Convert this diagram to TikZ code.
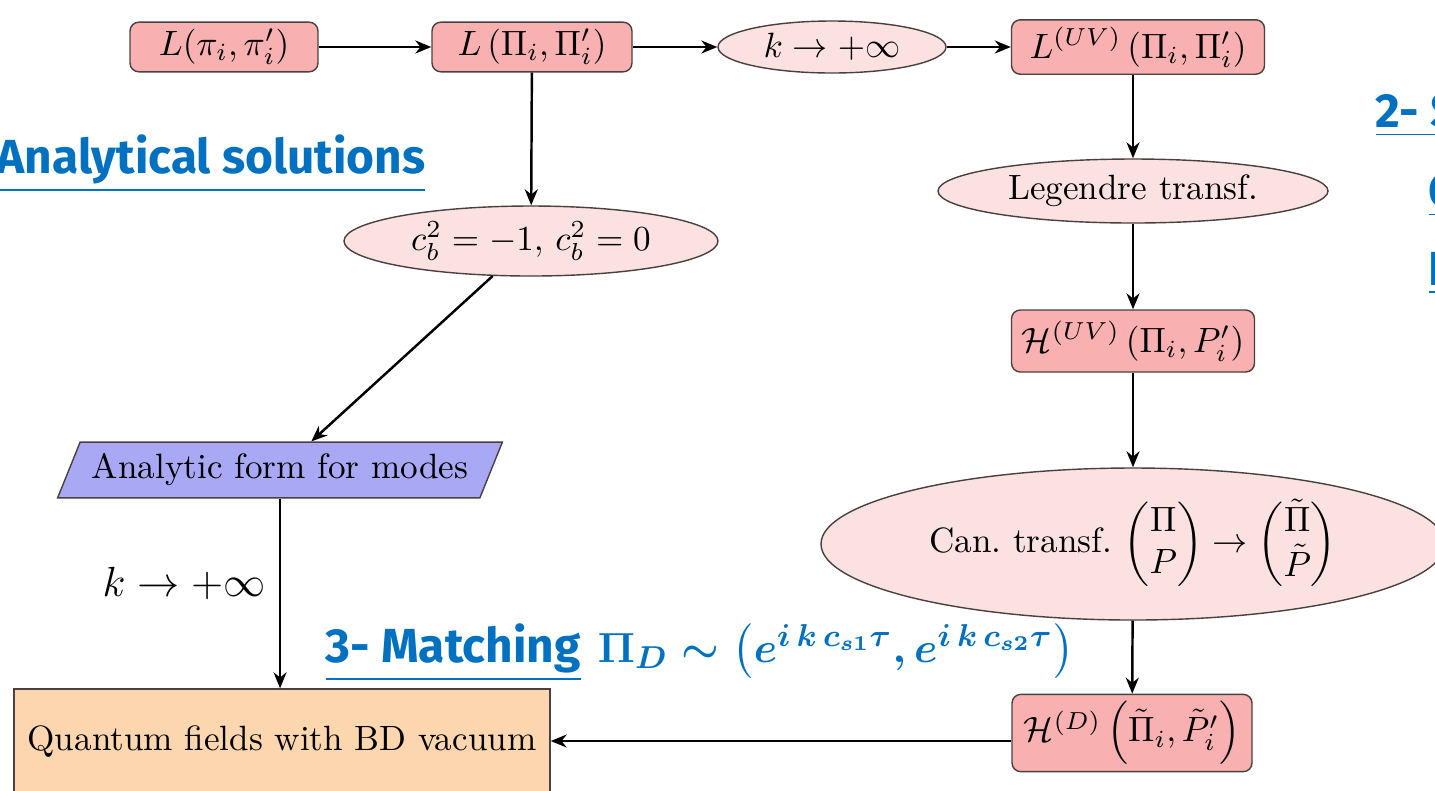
\documentclass[tikz,border=0pt]{standalone}
\usepackage{amsmath,amssymb}
\usepackage{fontspec}
\newfontfamily\slidefont{Fira Sans}
\usetikzlibrary{arrows.meta,positioning,shapes.geometric}
\definecolor{StepRed}{HTML}{F8B0B0}
\definecolor{StepPink}{HTML}{FCE1E1}
\definecolor{FormBlue}{HTML}{A8A8F5}
\definecolor{VacuumPeach}{HTML}{FBD6AF}
\definecolor{EdgeGray}{HTML}{4A4040}
\definecolor{SlideBlue}{HTML}{0070C0}
\tikzset{
  lagbox/.style={rectangle, rounded corners=2.5pt, fill=StepRed, draw=EdgeGray, thin, minimum height=4.6mm, inner sep=2pt},
  limitell/.style={ellipse, fill=StepPink, draw=EdgeGray, thin, inner sep=1pt},
  flow/.style={-{Stealth[length=1.6mm,width=1.3mm]}, line width=0.7pt},
  slidelabel/.style={text=SlideBlue, font=\slidefont\bfseries\fontsize{13.6}{16}\selectfont, inner sep=0pt}
}

\begin{document}
\begin{tikzpicture}
    \useasboundingbox (0,0) rectangle (14.35,-7.9);
    \clip (0,0) rectangle (14.35,-7.9);

    % top row
    \node[lagbox, minimum width=18.8mm] (Lpi) at (2.24,-0.47) {$L(\pi_i,\pi'_i)$};
    \node[lagbox, minimum width=20mm] (LPi) at (5.32,-0.47) {$L\left(\Pi_i,\Pi'_i\right)$};
    \node[limitell, minimum width=22.8mm, minimum height=5.2mm] (klim) at (8.32,-0.47) {$k\to+\infty$};
    \node[lagbox, minimum width=25.3mm, minimum height=5mm] (LUV) at (11.38,-0.47) {$L^{(UV)}\left(\Pi_i,\Pi'_i\right)$};

    % left branch
    \node[limitell, minimum width=37.4mm, minimum height=7mm] (cb) at (5.31,-2.41) {$c_b^2=-1,\, c_b^2=0$};
    \node[trapezium, trapezium left angle=68, trapezium right angle=112, trapezium stretches=true,
      fill=FormBlue, draw=EdgeGray, thin, minimum width=44mm, minimum height=5.5mm] (modes) at (2.80,-4.70) {Analytic form for modes};
    \node[rectangle, fill=VacuumPeach, draw=EdgeGray, thin, minimum width=53.6mm, minimum height=10.4mm] (vacuum) at (2.82,-7.41) {Quantum fields with BD vacuum};

    % right branch
    \node[limitell, minimum width=39mm, minimum height=6.4mm] (legendre) at (11.33,-1.91) {Legendre transf.};
    \node[lagbox, minimum width=24.3mm, minimum height=6.2mm] (HUV) at (11.33,-3.41) {$\mathcal{H}^{(UV)}\left(\Pi_i,P'_i\right)$};
    \node[limitell, minimum width=62.4mm, minimum height=15.2mm] (cantr) at (11.33,-5.44)
      {Can.\ transf.\ $\begin{pmatrix}\Pi\\ P\end{pmatrix}\to\begin{pmatrix}\tilde\Pi\\ \tilde P\end{pmatrix}$};
    \node[lagbox, minimum width=24mm, minimum height=6.7mm] (HD) at (11.32,-7.33) {$\mathcal{H}^{(D)}\left(\tilde\Pi_i,\tilde P'_i\right)$};

    \draw[flow] (Lpi) -- (LPi);
    \draw[flow] (LPi) -- (klim);
    \draw[flow] (klim) -- (LUV);
    \draw[flow] (LPi) -- (cb);
    \draw[flow] (cb) -- (modes);
    \draw[flow] (modes.south) -- (modes.south |- vacuum.north);
    \draw[flow] (legendre.north |- LUV.south) -- (legendre);
    \draw[flow] (legendre) -- (HUV);
    \draw[flow] (HUV) -- (cantr);
    \draw[flow] (cantr) -- (HD);
    \draw[flow] (HD.west |- vacuum.east) -- (vacuum.east);

    % slide annotations
    \node[font=\fontsize{12.4}{14}\selectfont, anchor=east, inner sep=0pt] (klabel) at (2.66,-5.83) {$k\to+\infty$};
    \node[slidelabel, anchor=base west] (analytic) at (-0.04,-1.73) {\underline{Analytical solutions}};
    \node[slidelabel, anchor=base west] (match) at (3.25,-6.62) {\underline{3- Matching}};
    \node[text=SlideBlue, font=\boldmath\fontsize{13}{15}\selectfont, inner sep=0pt,
      right=1.6mm of match.base east, anchor=base west] (matchform)
      {$\Pi_D \sim \bigl(e^{i\,k\,c_{s1}\tau}, e^{i\,k\,c_{s2}\tau}\bigr)$};
    \node[slidelabel, anchor=base west] (partb) at (13.75,-1.27) {\underline{2- S}};
    \node[slidelabel, anchor=base west] (partbc) at (14.28,-2.07) {\underline{C}};
    \node[slidelabel, anchor=base west] (partbn) at (14.28,-2.85) {\underline{N}};
\end{tikzpicture}
\end{document}
